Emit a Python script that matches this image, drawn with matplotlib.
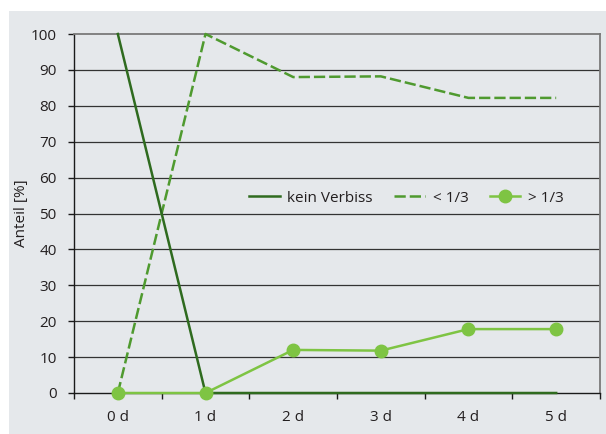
import matplotlib
matplotlib.use("Agg")
import matplotlib.pyplot as plt
from matplotlib.patches import Rectangle
import numpy as np

categories = ["0 d", "1 d", "2 d", "3 d", "4 d", "5 d"]
kein_verbiss = [100, 0, 0, 0, 0, 0]
unter_drittel = [0, 100, 88.0, 88.2, 82.2, 82.2]
ueber_drittel = [0, 0, 12.0, 11.8, 17.8, 17.8]
yticks = list(range(0, 101, 10))

plt.rcParams['font.family'] = ['Open Sans', 'DejaVu Sans']

bg = '#e5e8eb'
fig = plt.figure(figsize=(6.06, 4.34), dpi=100, facecolor='white')
fig.patches.append(Rectangle((9/606, 0), 1 - 9/606, (434-11)/434,
                             transform=fig.transFigure, facecolor=bg,
                             edgecolor='none', zorder=-10))
ax = fig.add_axes([74/606, (434-393)/434, (600-74)/606, (393-34)/434])
ax.set_facecolor(bg)

x = np.arange(len(categories))
c_dark = '#2f6b1f'
c_mid = '#4f9a2f'
c_light = '#7ec443'

ax.plot(x, unter_drittel, color=c_mid, lw=1.8, ls=(0, (4.5, 1.6)),
        label='< 1/3', clip_on=False, zorder=3)
ax.plot(x, kein_verbiss, color=c_dark, lw=1.8, label='kein Verbiss',
        clip_on=False, zorder=4)
ax.plot(x, ueber_drittel, color=c_light, lw=1.8, marker='o', ms=9,
        label='> 1/3', clip_on=False, zorder=5)

ax.set_xlim(-0.5, len(categories) - 0.5)
ax.set_ylim(0, 100)
ax.set_yticks(yticks)
ax.set_yticklabels([str(v) for v in yticks])
ax.set_xticks(np.arange(-0.5, len(categories), 1.0))
ax.set_xticklabels([])
ax.set_xticks(x, minor=True)
ax.set_xticklabels(categories, minor=True)
ax.tick_params(axis='x', which='major', length=4, width=1, color='#1a1a1a', direction='out')
ax.tick_params(axis='x', which='minor', length=0, pad=12, labelsize=11, labelcolor='#231f20')
ax.tick_params(axis='y', length=4.5, width=1, color='#1a1a1a', pad=8, labelsize=11,
               labelcolor='#231f20')

for v in yticks[1:-1]:
    ax.axhline(v, color='#333333', lw=0.9, zorder=1)

for s in ['left', 'bottom']:
    ax.spines[s].set_color('#1a1a1a')
    ax.spines[s].set_linewidth(1.0)
for s in ['top', 'right']:
    ax.spines[s].set_color('#7a7a7a')
    ax.spines[s].set_linewidth(1.3)

ax.set_ylabel('Anteil [%]', fontsize=11, color='#231f20', labelpad=1)

h, l = ax.get_legend_handles_labels()
order = [1, 0, 2]
ax.legend([h[i] for i in order], [l[i] for i in order], ncol=3, frameon=False,
          loc='center', bbox_to_anchor=(0.632, 0.543), fontsize=11,
          handlelength=2.0, columnspacing=1.4, handletextpad=0.5,
          labelcolor='#231f20')

fig.savefig('out.png', dpi=100, facecolor='white')
